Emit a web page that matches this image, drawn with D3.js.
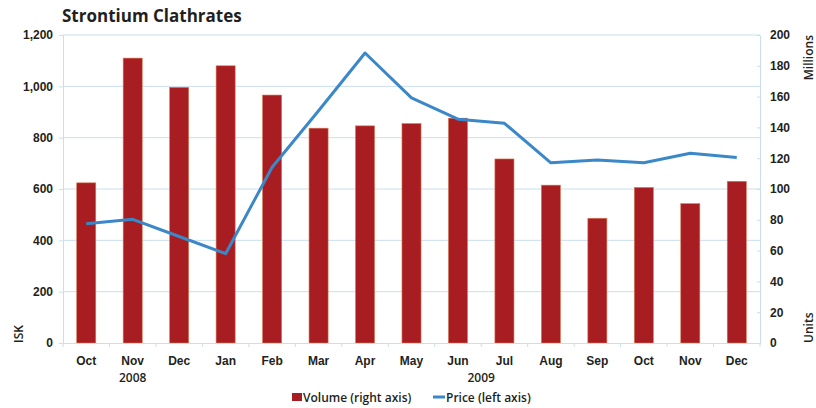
<!DOCTYPE html>
<html>
<head>
<meta charset="utf-8">
<script src="https://cdn.jsdelivr.net/npm/d3@7"></script>
<style>
  html, body { margin: 0; padding: 0; background: #fff; }
  svg { display: block; font-family: "Open Sans", "DejaVu Sans", sans-serif; }
  .tick text { font-size: 12px; font-weight: 600; fill: #231f20; }
</style>
</head>
<body>
<svg id="chart" width="816" height="408"></svg>
<script>
// Monthly data, Oct 2008 – Dec 2009
const months = ["Oct", "Nov", "Dec", "Jan", "Feb", "Mar", "Apr", "May", "Jun", "Jul", "Aug", "Sep", "Oct", "Nov", "Dec"];
const years = [
  { label: "2008", first: 0, last: 2 },
  { label: "2009", first: 3, last: 14 }
];
const volume = [104, 185, 166, 180, 161, 139.5, 141, 142.5, 146, 119.5, 102.5, 81, 101, 90.5, 105]; // millions of units
const price = [465, 482, 415, 348, 685, 905, 1130, 955, 872, 856, 702, 713, 702, 739, 723];          // ISK
const leftTicks = [0, 200, 400, 600, 800, 1000, 1200];
const rightTicks = [0, 20, 40, 60, 80, 100, 120, 140, 160, 180, 200];

const svg = d3.select("#chart");
const margin = { top: 35, right: 56, bottom: 65, left: 63 };
const W = 816, H = 408;
const x0 = margin.left, x1 = W - margin.right, y0 = H - margin.bottom, y1 = margin.top;

const gridColor = "#c9dfec";
const barColor = "#a81d21";
const lineColor = "#3b88c9";
const textColor = "#231f20";

const x = d3.scaleBand().domain(d3.range(months.length)).range([x0, x1]).paddingInner(0.59).paddingOuter(0.295);
const xb = d3.scaleBand().domain(d3.range(months.length)).range([x0, x1]);
const yL = d3.scaleLinear().domain([0, 1200]).range([y0, y1]);
const yR = d3.scaleLinear().domain([0, 200]).range([y0, y1]);

// Title
svg.append("text").attr("x", 62).attr("y", 22)
  .attr("font-size", 17).attr("font-weight", 700).attr("fill", textColor)
  .text("Strontium Clathrates");

// Horizontal gridlines
svg.append("g").selectAll("line").data(leftTicks.filter(d => d > 0)).join("line")
  .attr("x1", x0).attr("x2", x1)
  .attr("y1", d => yL(d)).attr("y2", d => yL(d))
  .attr("stroke", gridColor).attr("stroke-width", 1);

// Left axis (price)
const gL = svg.append("g").attr("transform", `translate(${x0},0)`)
  .call(d3.axisLeft(yL).tickValues(leftTicks).tickFormat(d3.format(",")).tickSize(4).tickPadding(6));
gL.select(".domain").attr("stroke", gridColor);
gL.selectAll(".tick line").attr("stroke", gridColor);

// Right axis (volume)
const gR = svg.append("g").attr("transform", `translate(${x1},0)`)
  .call(d3.axisRight(yR).tickValues(rightTicks).tickSize(0).tickPadding(10));
gR.select(".domain").attr("stroke", gridColor);
gR.selectAll(".tick").append("line").attr("x1", -3).attr("x2", 0).attr("stroke", gridColor);

// Bars
svg.append("g").selectAll("rect").data(volume).join("rect")
  .attr("x", (d, i) => x(i)).attr("width", x.bandwidth())
  .attr("y", d => yR(d)).attr("height", d => y0 - yR(d))
  .attr("fill", barColor).attr("stroke", "#d9774f").attr("stroke-width", 0.6);

// Bottom axis
const gB = svg.append("g").attr("transform", `translate(0,${y0})`)
  .call(d3.axisBottom(xb).tickFormat(i => months[i]).tickSize(0).tickPadding(13));
gB.select(".domain").attr("stroke", gridColor).attr("stroke-width", 1.2);
svg.append("g").selectAll("line").data(d3.range(months.length + 1)).join("line")
  .attr("x1", i => x0 + i * xb.step()).attr("x2", i => x0 + i * xb.step())
  .attr("y1", y0).attr("y2", y0 + 4).attr("stroke", gridColor);

// Year labels centred under their months
svg.append("g").selectAll("text").data(years).join("text")
  .attr("x", d => (xb(d.first) + xb(d.last) + xb.bandwidth()) / 2)
  .attr("y", y0 + 39).attr("text-anchor", "middle")
  .attr("font-size", 12).attr("font-weight", 600).attr("fill", textColor)
  .text(d => d.label);

// Price line
svg.append("path").datum(price)
  .attr("fill", "none").attr("stroke", lineColor).attr("stroke-width", 3)
  .attr("stroke-linejoin", "round")
  .attr("d", d3.line().x((d, i) => xb(i) + xb.bandwidth() / 2).y(d => yL(d)));

// Axis titles
svg.append("text").attr("transform", `translate(23,${y0}) rotate(-90)`)
  .attr("font-size", 12).attr("font-weight", 600).attr("fill", textColor).text("ISK");
svg.append("text").attr("transform", `translate(813,${y1}) rotate(-90)`)
  .attr("text-anchor", "end").attr("font-size", 12).attr("font-weight", 600).attr("fill", textColor).text("Millions");
svg.append("text").attr("transform", `translate(813,${y0}) rotate(-90)`)
  .attr("font-size", 12).attr("font-weight", 600).attr("fill", textColor).text("Units");

// Legend
const leg = svg.append("g").attr("transform", "translate(292,402)");
leg.append("rect").attr("x", 0).attr("y", -9).attr("width", 10).attr("height", 8).attr("fill", barColor);
leg.append("text").attr("x", 11).attr("y", 0).attr("font-size", 12).attr("font-weight", 600).attr("fill", textColor)
  .text("Volume (right axis)");
leg.append("line").attr("x1", 141).attr("x2", 153).attr("y1", -5).attr("y2", -5)
  .attr("stroke", lineColor).attr("stroke-width", 3);
leg.append("text").attr("x", 154).attr("y", 0).attr("font-size", 12).attr("font-weight", 600).attr("fill", textColor)
  .text("Price (left axis)");
</script>
</body>
</html>
